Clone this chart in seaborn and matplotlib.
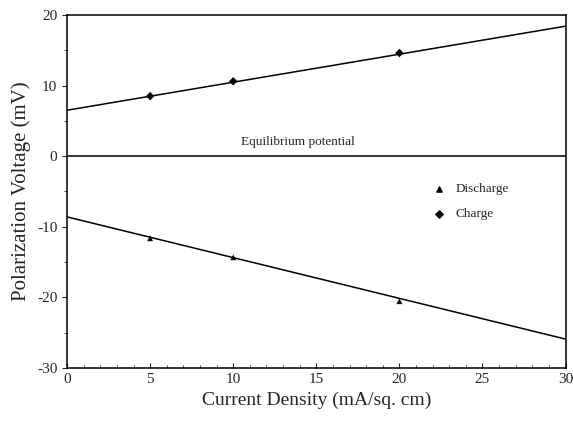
import matplotlib
matplotlib.use('Agg')
import matplotlib.pyplot as plt
import numpy as np
import pandas as pd
import seaborn as sns
from matplotlib.ticker import MultipleLocator

# measured points
current = [5, 10, 20]
charge = [8.5, 10.6, 14.6]
discharge = [-11.6, -14.3, -20.5]

# fitted lines (end points)
fit_x = [0, 30]
charge_fit = [6.5, 18.4]
discharge_fit = [-8.6, -25.9]

sns.set_style('ticks')
plt.rcParams['font.family'] = ['Liberation Serif', 'DejaVu Serif']
plt.rcParams['axes.unicode_minus'] = False

fig = plt.figure(figsize=(5.73, 4.25), dpi=100)
ax = fig.add_axes([0.117, 0.134, 0.870, 0.831])

pts = pd.DataFrame({'x': current * 2,
                    'y': discharge + charge,
                    'kind': ['Discharge'] * 3 + ['Charge'] * 3})
fits = pd.DataFrame({'x': fit_x * 2,
                     'y': discharge_fit + charge_fit,
                     'kind': ['Discharge'] * 2 + ['Charge'] * 2})

sns.lineplot(data=fits, x='x', y='y', units='kind', estimator=None,
             color='black', lw=1.1, ax=ax, legend=False)
ax.axhline(0, color='black', lw=1.1)
sns.scatterplot(data=pts, x='x', y='y', style='kind',
                markers={'Discharge': '^', 'Charge': 'D'},
                color='black', s=22, ax=ax, legend=False)

ax.text(13.9, 1.1, 'Equilibrium potential', ha='center', va='bottom', fontsize=9.5)

# legend drawn as markers + text in data space
for yy, lab, mk in [(-4.7, 'Discharge', '^'), (-8.2, 'Charge', 'D')]:
    ax.scatter([22.4], [yy], marker=mk, color='black', s=14)
    ax.text(23.4, yy, lab, va='center', fontsize=9.5)

ax.set_xlim(0, 30)
ax.set_ylim(-30, 20)
ax.xaxis.set_major_locator(MultipleLocator(5))
ax.xaxis.set_minor_locator(MultipleLocator(1))
ax.yaxis.set_major_locator(MultipleLocator(10))
ax.yaxis.set_minor_locator(MultipleLocator(5))
ax.tick_params(axis='x', which='both', direction='in', labelsize=11)
ax.tick_params(axis='y', which='both', direction='out', labelsize=11)
ax.tick_params(which='minor', length=2.5)
for s in ax.spines.values():
    s.set_color('black')
    s.set_linewidth(1.1)

ax.set_xlabel('Current Density (mA/sq. cm)', fontsize=14)
ax.set_ylabel('Polarization Voltage (mV)', fontsize=15)

fig.savefig('out.png', dpi=100)
